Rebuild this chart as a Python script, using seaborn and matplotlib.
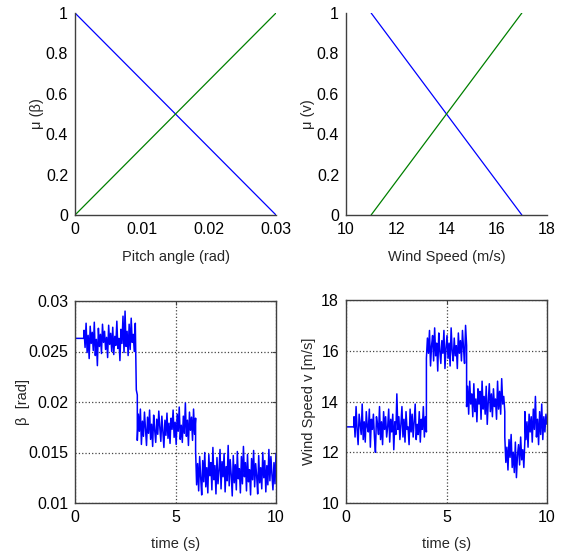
import numpy as np
import pandas as pd
import matplotlib
matplotlib.use("Agg")
import matplotlib.pyplot as plt
import seaborn as sns

# --- Membership functions (top row) ---
pitch_pts = [0.0, 0.03]
mu_beta_low = [1.0, 0.0]
mu_beta_high = [0.0, 1.0]

wind_pts = [11.0, 17.0]
mu_v_low = [1.0, 0.0]
mu_v_high = [0.0, 1.0]

# --- Pitch angle signal (bottom left): (t_start, t_end, samples) ---
beta_segments = [
    (0.0, 0.45, [0.0263, 0.0263]),
    (0.45, 3.0, [0.0271, 0.0254, 0.0278, 0.0249, 0.0266, 0.0243, 0.0275, 0.0258, 0.0269, 0.0251,
                 0.0279, 0.0246, 0.0262, 0.0236, 0.0273, 0.0255, 0.0267, 0.0248, 0.0277, 0.0259,
                 0.0270, 0.0252, 0.0264, 0.0244, 0.0276, 0.0257, 0.0268, 0.0250, 0.0274, 0.0247,
                 0.0265, 0.0256, 0.0280, 0.0253, 0.0263, 0.0241, 0.0272, 0.0258, 0.0285, 0.0249,
                 0.0290, 0.0255, 0.0270, 0.0246, 0.0277, 0.0252, 0.0283, 0.0259, 0.0267, 0.0250,
                 0.0278]),
    (3.0, 3.1, [0.0278, 0.0212, 0.0207]),
    (3.1, 6.0, [0.0162, 0.0188, 0.0171, 0.0193, 0.0158, 0.0181, 0.0166, 0.0190, 0.0174, 0.0157,
                0.0185, 0.0169, 0.0192, 0.0163, 0.0178, 0.0156, 0.0187, 0.0172, 0.0160, 0.0183,
                0.0168, 0.0191, 0.0175, 0.0161, 0.0186, 0.0170, 0.0155, 0.0182, 0.0167, 0.0189,
                0.0164, 0.0179, 0.0159, 0.0184, 0.0173, 0.0192, 0.0165, 0.0180, 0.0158, 0.0188,
                0.0171, 0.0195, 0.0163, 0.0177, 0.0160, 0.0186, 0.0169, 0.0199, 0.0166, 0.0182,
                0.0157, 0.0190, 0.0172, 0.0185, 0.0162, 0.0193, 0.0168, 0.0184]),
    (6.0, 10.0, [0.0152, 0.0118, 0.0139, 0.0112, 0.0146, 0.0125, 0.0108, 0.0142, 0.0121, 0.0150,
                 0.0116, 0.0135, 0.0110, 0.0148, 0.0127, 0.0140, 0.0113, 0.0155, 0.0123, 0.0137,
                 0.0109, 0.0145, 0.0119, 0.0132, 0.0153, 0.0114, 0.0141, 0.0126, 0.0149, 0.0111,
                 0.0136, 0.0122, 0.0157, 0.0117, 0.0143, 0.0128, 0.0107, 0.0147, 0.0120, 0.0138,
                 0.0113, 0.0151, 0.0124, 0.0134, 0.0110, 0.0146, 0.0119, 0.0156, 0.0126, 0.0140,
                 0.0112, 0.0148, 0.0121, 0.0133, 0.0108, 0.0144, 0.0123, 0.0152, 0.0116, 0.0139,
                 0.0127, 0.0109, 0.0147, 0.0120, 0.0135, 0.0114, 0.0150, 0.0125, 0.0142, 0.0111,
                 0.0137, 0.0118, 0.0153, 0.0122, 0.0146, 0.0128, 0.0113, 0.0140, 0.0119, 0.0149]),
]

# --- Wind speed signal (bottom right) ---
wind_segments = [
    (0.0, 0.4, [13.0, 13.0]),
    (0.4, 4.0, [13.4, 12.6, 13.8, 12.9, 12.3, 13.5, 13.1, 12.7, 13.9, 12.5, 13.2, 12.4, 13.6, 13.0,
                12.8, 13.7, 12.2, 13.3, 12.9, 13.5, 12.6, 12.0, 13.4, 13.1, 12.7, 13.8, 12.5, 13.2,
                12.3, 13.6, 12.9, 13.4, 12.6, 13.0, 13.7, 12.4, 13.3, 12.8, 13.5, 12.1, 13.2, 12.7,
                14.3, 12.9, 13.4, 12.5, 13.1, 13.8, 12.6, 13.3, 12.4, 13.6, 12.9, 13.0, 12.3, 13.7,
                12.8, 13.5, 12.6, 13.2, 13.9, 12.5, 13.1, 12.7, 13.6, 12.4, 13.3, 12.9, 13.8, 12.6,
                13.4, 12.8]),
    (4.0, 6.0, [15.7, 16.5, 15.9, 16.8, 15.4, 16.2, 16.6, 15.6, 16.9, 15.8, 16.3, 15.2, 16.7, 16.0,
                15.5, 16.4, 15.9, 16.8, 15.3, 16.1, 16.6, 15.7, 16.3, 15.4, 16.9, 16.0, 15.6, 16.5,
                15.8, 16.2, 15.3, 16.7, 15.9, 16.4, 15.6, 16.8, 16.1, 15.5, 17.0, 16.2]),
    (6.0, 7.9, [13.8, 14.6, 13.5, 14.8, 13.9, 14.3, 13.4, 14.7, 13.6, 14.1, 13.2, 14.5, 13.9, 14.4,
                13.3, 14.8, 13.7, 14.2, 13.5, 14.6, 13.1, 14.0, 14.7, 13.6, 14.3, 13.4, 14.5, 13.8,
                14.1, 13.3, 14.8, 13.7, 14.4, 13.5, 14.9, 13.9, 14.2, 13.6]),
    (7.9, 8.9, [12.6, 11.6, 12.2, 11.3, 12.5, 11.8, 12.7, 11.4, 12.0, 11.2, 12.4, 11.0, 11.9, 12.3,
                11.5, 12.6, 11.7, 12.1, 11.4, 12.5]),
    (8.9, 10.0, [13.6, 12.5, 13.2, 12.2, 13.5, 12.8, 13.4, 12.4, 13.7, 12.9, 14.2, 12.6, 13.3, 12.3,
                 13.6, 12.7, 13.9, 12.5, 13.4, 12.8, 13.5, 13.1]),
]

BLUE = '#0000FF'
GREEN = '#008000'
AXIS_COLOR = '#404040'


def segments_to_frame(segments):
    rows = []
    for t0, t1, vals in segments:
        times = np.linspace(t0, t1, len(vals))
        rows.append(pd.DataFrame({'t': times, 'y': vals}))
    return pd.concat(rows, ignore_index=True)


def style_axes(ax, boxed):
    ax.tick_params(direction='in', length=3, width=0.8, color=AXIS_COLOR,
                   labelsize=11.5, labelcolor='black', pad=5,
                   top=boxed, right=boxed)
    for side, sp in ax.spines.items():
        sp.set_color(AXIS_COLOR)
        sp.set_linewidth(1.0)
        if not boxed and side in ('top', 'right'):
            sp.set_visible(False)
    if boxed:
        ax.grid(True, color='#444444', linestyle=':', linewidth=0.9)
    else:
        ax.grid(False)
    ax.set_facecolor('white')


def place_labels(ax, xlabel, ylabel, xoff, yoff):
    ax.set_xlabel(xlabel, fontsize=10.5, va='center')
    ax.set_ylabel(ylabel, fontsize=10.5, va='center')
    ax.xaxis.set_label_coords(0.5, -xoff / 202)
    ax.yaxis.set_label_coords(-yoff / 201, 0.5)


sns.set_theme(style='white')
plt.rcParams['font.family'] = ['Liberation Sans', 'DejaVu Sans']
plt.rcParams['axes.unicode_minus'] = False

W, H = 566, 556
fig = plt.figure(figsize=(W / 100, H / 100), dpi=100)
fig.patch.set_facecolor('white')


def add_ax(left, top, right, bottom):
    return fig.add_axes([left / W, 1 - bottom / H, (right - left) / W, (bottom - top) / H])


ax1 = add_ax(75, 13, 276, 215)
ax2 = add_ax(346, 13, 547, 215)
ax3 = add_ax(75, 301, 276, 503)
ax4 = add_ax(346, 300, 547, 503)

# --- Top left: pitch angle membership ---
sns.lineplot(x=pitch_pts, y=mu_beta_low, ax=ax1, color=BLUE, linewidth=0.9)
sns.lineplot(x=pitch_pts, y=mu_beta_high, ax=ax1, color=GREEN, linewidth=0.9)
ax1.set_xlim(0, 0.03)
ax1.set_ylim(0, 1)
ax1.set_xticks([0, 0.01, 0.02, 0.03])
ax1.set_xticklabels(['0', '0.01', '0.02', '0.03'])
ax1.set_yticks([0, 0.2, 0.4, 0.6, 0.8, 1])
ax1.set_yticklabels(['0', '0.2', '0.4', '0.6', '0.8', '1'])
style_axes(ax1, boxed=False)
place_labels(ax1, 'Pitch angle (rad)', 'μ (β)', 42, 38)

# --- Top right: wind speed membership ---
sns.lineplot(x=wind_pts, y=mu_v_low, ax=ax2, color=BLUE, linewidth=0.9)
sns.lineplot(x=wind_pts, y=mu_v_high, ax=ax2, color=GREEN, linewidth=0.9)
ax2.set_xlim(10, 18)
ax2.set_ylim(0, 1)
ax2.set_xticks([10, 12, 14, 16, 18])
ax2.set_xticklabels(['10', '12', '14', '16', '18'])
ax2.set_yticks([0, 0.2, 0.4, 0.6, 0.8, 1])
ax2.set_yticklabels(['0', '0.2', '0.4', '0.6', '0.8', '1'])
style_axes(ax2, boxed=False)
place_labels(ax2, 'Wind Speed (m/s)', 'μ (v)', 42, 38)

# --- Bottom left: pitch angle over time ---
beta_df = segments_to_frame(beta_segments)
sns.lineplot(data=beta_df, x='t', y='y', ax=ax3, color=BLUE, linewidth=1.1,
             estimator=None, sort=False)
ax3.set_xlim(0, 10)
ax3.set_ylim(0.01, 0.03)
ax3.set_xticks([0, 5, 10])
ax3.set_xticklabels(['0', '5', '10'])
ax3.set_yticks([0.01, 0.015, 0.02, 0.025, 0.03])
ax3.set_yticklabels(['0.01', '0.015', '0.02', '0.025', '0.03'])
style_axes(ax3, boxed=True)
place_labels(ax3, 'time (s)', 'β  [rad]', 41, 52)

# --- Bottom right: wind speed over time ---
wind_df = segments_to_frame(wind_segments)
sns.lineplot(data=wind_df, x='t', y='y', ax=ax4, color=BLUE, linewidth=1.1,
             estimator=None, sort=False)
ax4.set_xlim(0, 10)
ax4.set_ylim(10, 18)
ax4.set_xticks([0, 5, 10])
ax4.set_xticklabels(['0', '5', '10'])
ax4.set_yticks([10, 12, 14, 16, 18])
ax4.set_yticklabels(['10', '12', '14', '16', '18'])
style_axes(ax4, boxed=True)
place_labels(ax4, 'time (s)', 'Wind Speed v [m/s]', 41, 37)

fig.savefig('out.png', dpi=100, facecolor='white')
